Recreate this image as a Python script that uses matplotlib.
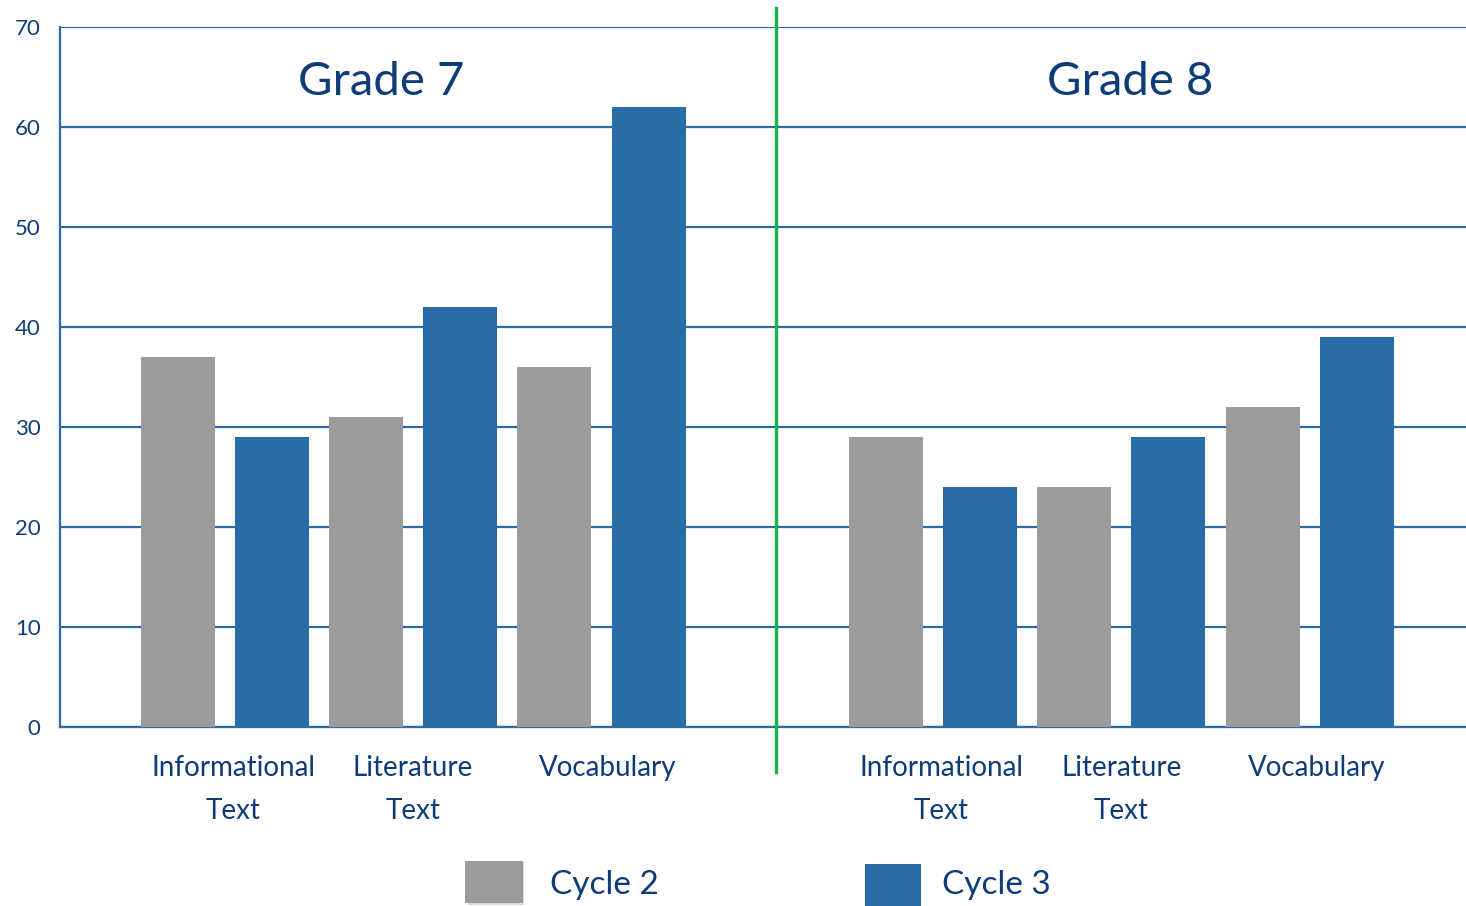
import matplotlib
matplotlib.use("Agg")
import matplotlib.pyplot as plt
from matplotlib.patches import Rectangle
import numpy as np

categories = ["Informational\nText", "Literature\nText", "Vocabulary"]
grades = ["Grade 7", "Grade 8"]
cycle2 = {"Grade 7": [37, 31, 36], "Grade 8": [29, 24, 32]}
cycle3 = {"Grade 7": [29, 42, 62], "Grade 8": [24, 29, 39]}
yticks = [0, 10, 20, 30, 40, 50, 60, 70]

GRAY = "#9b9b9b"
BLUE = "#286da7"
GRID = "#2e6aa6"
TEXT = "#0d3c78"
GREEN = "#19b24b"

plt.rcParams['font.family'] = ['Lato', 'DejaVu Sans']

fig = plt.figure(figsize=(14.66, 9.06), dpi=100)
ax = fig.add_axes([60/1466, 1-727/906, 1-60/1466, 700/906])

group_centers = {"Grade 7": np.array([1.75, 3.75, 5.75]),
                 "Grade 8": np.array([9.27, 11.27, 13.27])}
label_shift = np.array([0.09, 0.0, 0.07])
w = 0.785
for g in grades:
    c = group_centers[g]
    ax.bar(c - 0.5, cycle2[g], width=w, color=GRAY, zorder=3)
    ax.bar(c + 0.5, cycle3[g], width=w, color=BLUE, zorder=3)

ax.set_xlim(0, 14.93)
ax.set_ylim(0, 70)
ax.set_yticks(yticks)
ax.yaxis.grid(True, color=GRID, linewidth=1.6, zorder=0)
ax.set_axisbelow(True)
for s in ["top", "right"]:
    ax.spines[s].set_visible(False)
ax.spines["left"].set_color(GRID)
ax.spines["left"].set_linewidth(1.6)
ax.spines["bottom"].set_color(GRID)
ax.spines["bottom"].set_linewidth(1.6)
ax.tick_params(axis="y", length=0, pad=14, labelsize=16, labelcolor=TEXT)
ax.tick_params(axis="x", length=0, pad=20, labelsize=20, labelcolor=TEXT)

xt = np.concatenate([group_centers[g] + label_shift for g in grades])
ax.set_xticks(xt, categories * 2)
for lab in ax.get_xticklabels():
    lab.set_linespacing(1.8)

# titles
ax.text(3.41, 64.5, "Grade 7", ha="center", va="center", fontsize=34, color=TEXT)
ax.text(11.36, 64.5, "Grade 8", ha="center", va="center", fontsize=34, color=TEXT)

# separator
ax.plot([7.6, 7.6], [-4.5, 71.9], color=GREEN, linewidth=2.4, clip_on=False, zorder=5)

# legend
fig.add_artist(Rectangle((468/1466, 1-905/906), 56/1466, 43/906,
                         transform=fig.transFigure, facecolor="#d9d9d9", edgecolor="none"))
fig.add_artist(Rectangle((465/1466, 1-903/906), 58/1466, 42/906,
                         transform=fig.transFigure, facecolor=GRAY, edgecolor="none"))
fig.add_artist(Rectangle((865/1466, 1-906/906), 56/1466, 42/906,
                         transform=fig.transFigure, facecolor=BLUE, edgecolor="none"))
fig.text(550/1466, 1-885/906, "Cycle 2", ha="left", va="center", fontsize=24, color=TEXT)
fig.text(942/1466, 1-885/906, "Cycle 3", ha="left", va="center", fontsize=24, color=TEXT)

fig.savefig("out.png", dpi=100)
